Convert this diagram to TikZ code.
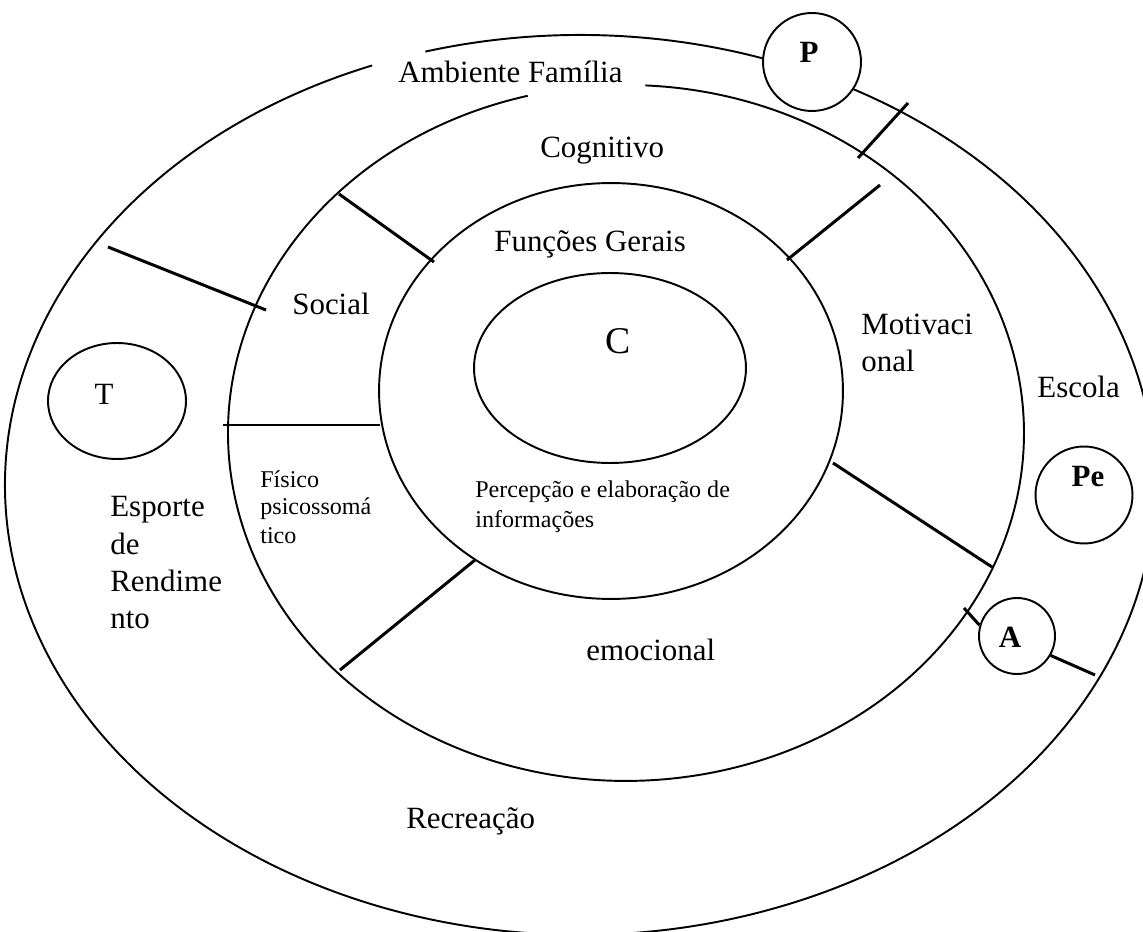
\documentclass[tikz,border=0pt]{standalone}
\usepackage{fontspec}
\setmainfont{Liberation Serif}
\usetikzlibrary{shapes.geometric}

\begin{document}
\begin{tikzpicture}[x=0.02cm, y=-0.02cm,
  ring/.style={line width=1.1pt},
  cut/.style={line width=1.7pt},
  txt/.style={inner sep=0pt, anchor=base west, font=\fontsize{17.6}{21}\selectfont},
  sml/.style={txt, font=\fontsize{13.7}{16}\selectfont},
  bub/.style={draw, circle, fill=white, line width=1.1pt, inner sep=0pt}]
\useasboundingbox (0,0) rectangle (1143,932);

% rings, the two outer ones open at the top
\draw[ring] ({580+575*cos(111.2)},{485-450*sin(111.2)}) arc[start angle=111.2, end angle=465.6, x radius=11.5cm, y radius=9cm];
\draw[ring] ({626+398*cos(104.3)},{433-348*sin(104.3)}) arc[start angle=104.3, end angle=447.2, x radius=7.96cm, y radius=6.96cm];
\draw[ring] (611,391) ellipse [x radius=4.64cm, y radius=4.16cm];
\draw[ring] (610,368) ellipse [x radius=2.72cm, y radius=1.9cm];

% ends of the dividers
\coordinate (a1) at (858,158); \coordinate (a2) at (908,103);
\coordinate (b1) at (787,260); \coordinate (b2) at (880,185);
\coordinate (c1) at (339,194); \coordinate (c2) at (434,262);
\coordinate (d1) at (108,247); \coordinate (d2) at (266,310);
\coordinate (e1) at (223,425); \coordinate (e2) at (380,425);
\coordinate (f1) at (475,560); \coordinate (f2) at (340,670);
\coordinate (g1) at (833,463); \coordinate (g2) at (992,567);
\coordinate (h1) at (964,608); \coordinate (h2) at (1095,675);

\draw[cut] (a1) -- (a2);
\draw[cut] (b1) -- (b2);
\draw[cut] (c1) -- (c2);
\draw[cut] (d1) -- (d2);
\draw[cut] (e1) -- (e2);
\draw[cut] (f1) -- (f2);
\draw[cut] (g1) -- (g2);

% bubbles
\node[bub, minimum size=1.96cm] (P) at (812,62) {};
\node[bub, minimum size=1.94cm] (Pe) at (1084,495) {};
\node[bub, minimum size=1.52cm] (A) at (1017,636) {};
\node[bub, ellipse, minimum width=2.76cm, minimum height=2.32cm] (T) at (117,401) {};
\draw[cut] (h1) -- (A.164);
\draw[cut] (A.-30) -- (h2);

\node[txt, anchor=center] (p) at (809,52) {\bfseries P};
\node[txt, anchor=center] (pe) at (1088,477) {\bfseries Pe};
\node[txt, anchor=center] (a) at (1010,637) {\bfseries A};
\node[txt, anchor=center] (t) at (104,394) {T};
\node[txt, anchor=center, font=\fontsize{21.5}{25}\selectfont] (c) at (618,341) {C};

% labels
\node[txt] (amb) at (398,83) {Ambiente Família};
\node[txt] (cog) at (540,158) {Cognitivo};
\node[txt] (fun) at (494,252) {Funções Gerais};
\node[txt] (soc) at (292,315) {Social};
\node[txt] (mot1) at (861,335) {Motivaci};
\node[txt] (mot2) at (861,372) {onal};
\node[txt] (esc) at (1037,398) {Escola};
\foreach \w [count=\i] in {Esporte,de,Rendime,nto}
  \node[txt] (esp\i) at (110,{480+37*\i}) {\w};
\foreach \w [count=\i] in {Físico,psicossomá,tico}
  \node[sml] (fis\i) at (260,{459+28*\i}) {\w};
\node[sml] (per1) at (475,498) {Percepção e elaboração de};
\node[sml] (per2) at (475,527) {informações};
\node[txt] (emo) at (586,660) {emocional};
\node[txt] (rec) at (406,828) {Recreação};
\end{tikzpicture}
\end{document}
